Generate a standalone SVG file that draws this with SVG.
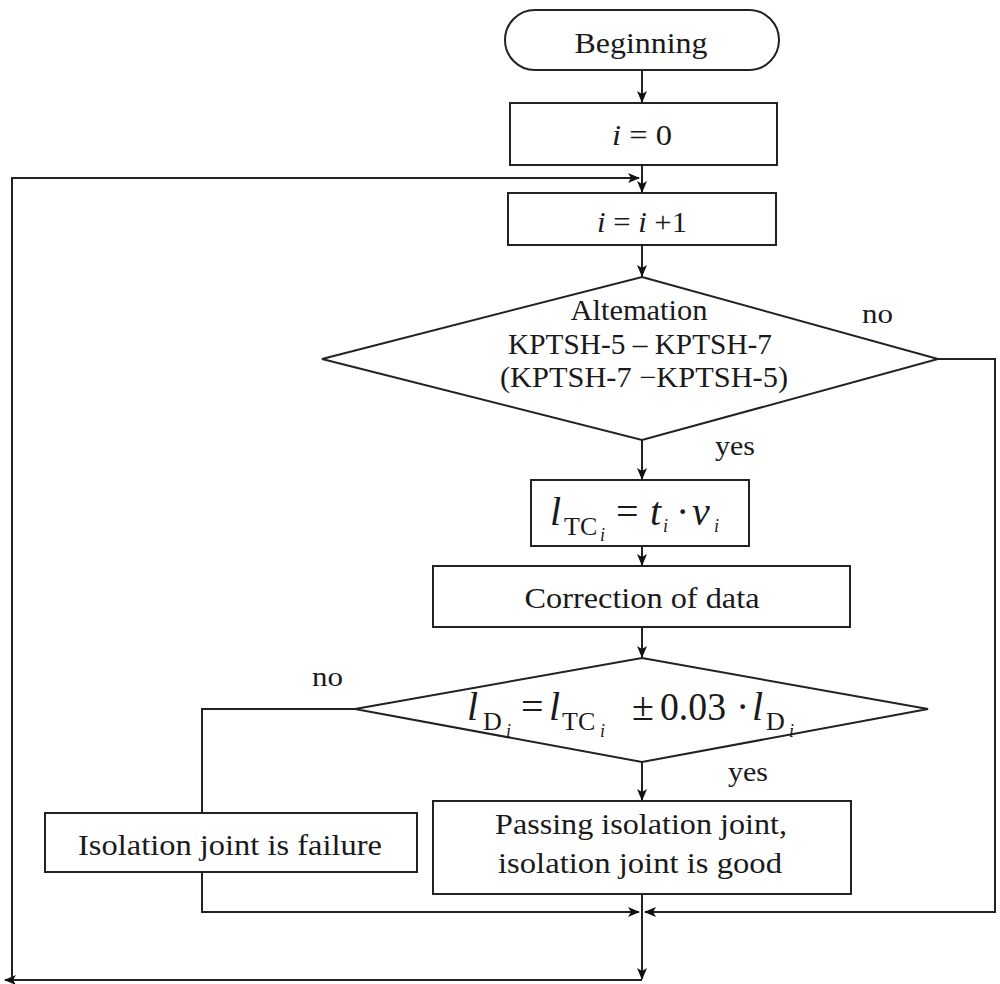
<svg xmlns="http://www.w3.org/2000/svg" width="1000" height="984" viewBox="0 0 1000 984">
<style>
.sh{fill:#fff;stroke:#222;stroke-width:2}
.t{font-family:"Liberation Serif","Times New Roman",serif;font-size:29px;fill:#1a1a1a;text-anchor:middle}
.l{font-family:"Liberation Serif","Times New Roman",serif;font-size:28px;fill:#1a1a1a}
.f{font-family:"Liberation Serif","Times New Roman",serif;font-size:40px;fill:#1a1a1a}
.it{font-style:italic}
.sub{font-size:26px;font-style:normal}
.ss{font-size:18px;font-style:italic}
.cn{fill:none;stroke:#222;stroke-width:2}
</style>
<defs>
<marker id="ah" markerWidth="12" markerHeight="10" refX="11" refY="5" orient="auto" markerUnits="userSpaceOnUse">
<path d="M0,0 L12,5 L0,10 L3,5 z" fill="#111"/>
</marker>
</defs>
<g id="connectors">
<path class="cn" d="M642,70 V102" marker-end="url(#ah)"/>
<path class="cn" d="M642,165 V192" marker-end="url(#ah)"/>
<path class="cn" d="M642,245 V276" marker-end="url(#ah)"/>
<path class="cn" d="M642,440 V479" marker-end="url(#ah)"/>
<path class="cn" d="M642,546 V565" marker-end="url(#ah)"/>
<path class="cn" d="M642,627 V657" marker-end="url(#ah)"/>
<path class="cn" d="M642,762 V800" marker-end="url(#ah)"/>
<path class="cn" d="M642,894 V979" marker-end="url(#ah)"/>
<path class="cn" d="M642,980 H5" marker-end="url(#ah)"/>
<path class="cn" d="M12,978 V178 H639" marker-end="url(#ah)"/>
<path class="cn" d="M938,359 H995 V912 H645" marker-end="url(#ah)"/>
<path class="cn" d="M355,709 H202 V813"/>
<path class="cn" d="M202,872 V912 H639" marker-end="url(#ah)"/>
<text class="l" x="862" y="323" textLength="31" lengthAdjust="spacingAndGlyphs">no</text>
<text class="l" x="715" y="455" textLength="40" lengthAdjust="spacingAndGlyphs">yes</text>
<text class="l" x="312" y="686" textLength="31" lengthAdjust="spacingAndGlyphs">no</text>
<text class="l" x="728" y="781" textLength="40" lengthAdjust="spacingAndGlyphs">yes</text>
</g>
<g id="begin">
<rect class="sh" x="505" y="10" width="274" height="60" rx="30"/>
<text class="t" x="641" y="53" textLength="133" lengthAdjust="spacingAndGlyphs">Beginning</text>
</g>
<g id="init">
<rect class="sh" x="510" y="103" width="267" height="62"/>
<text class="t" x="642" y="145" textLength="60" lengthAdjust="spacingAndGlyphs"><tspan class="it">i</tspan> = 0</text>
</g>
<g id="incr">
<rect class="sh" x="508" y="193" width="268" height="52"/>
<text class="t" x="642" y="232" textLength="90" lengthAdjust="spacingAndGlyphs"><tspan class="it">i</tspan> = <tspan class="it">i</tspan> +1</text>
</g>
<g id="dec1">
<polygon class="sh" points="642,277 938,359 642,440 322,359"/>
<text class="t" x="639" y="320" textLength="137" lengthAdjust="spacingAndGlyphs">Altemation</text>
<text class="t" x="640" y="354" textLength="264" lengthAdjust="spacingAndGlyphs">KPTSH-5 – KPTSH-7</text>
<text class="t" x="644" y="387" textLength="288" lengthAdjust="spacingAndGlyphs">(KPTSH-7  −KPTSH-5)</text>
</g>
<g id="ltc">
<rect class="sh" x="531" y="480" width="218" height="66"/>
<text class="f" y="525"><tspan class="it" x="550">l</tspan><tspan class="sub" x="564" y="535">TC</tspan><tspan class="ss" x="600" y="541">i</tspan><tspan x="616" y="525">=</tspan><tspan class="it" x="650">t</tspan><tspan class="ss" x="663" y="532">i</tspan><tspan x="676" y="525">·</tspan><tspan class="it" x="692">v</tspan><tspan class="ss" x="714" y="532">i</tspan></text>
</g>
<g id="correction">
<rect class="sh" x="433" y="566" width="417" height="61"/>
<text class="t" x="642" y="608" textLength="235" lengthAdjust="spacingAndGlyphs">Correction of data</text>
</g>
<g id="dec2">
<polygon class="sh" points="642,658 928,709 642,762 355,709"/>
<text class="f" y="720"><tspan class="it" x="467">l</tspan><tspan class="sub" x="483" y="730">D</tspan><tspan class="ss" x="506" y="737">i</tspan><tspan x="521" y="720">=</tspan><tspan class="it" x="549">l</tspan><tspan class="sub" x="562" y="730">TC</tspan><tspan class="ss" x="600" y="737">i</tspan><tspan x="632" y="720">±</tspan><tspan x="660" textLength="66" lengthAdjust="spacingAndGlyphs">0.03</tspan><tspan x="736">·</tspan><tspan class="it" x="752">l</tspan><tspan class="sub" x="766" y="730">D</tspan><tspan class="ss" x="789" y="737">i</tspan></text>
</g>
<g id="failure">
<rect class="sh" x="45" y="813" width="372" height="59"/>
<text class="t" x="230" y="855" textLength="304" lengthAdjust="spacingAndGlyphs">Isolation joint is failure</text>
</g>
<g id="passing">
<rect class="sh" x="433" y="801" width="418" height="93"/>
<text class="t" x="641" y="834" textLength="292" lengthAdjust="spacingAndGlyphs">Passing isolation joint,</text>
<text class="t" x="640" y="873" textLength="284" lengthAdjust="spacingAndGlyphs">isolation joint is good</text>
</g>
</svg>
